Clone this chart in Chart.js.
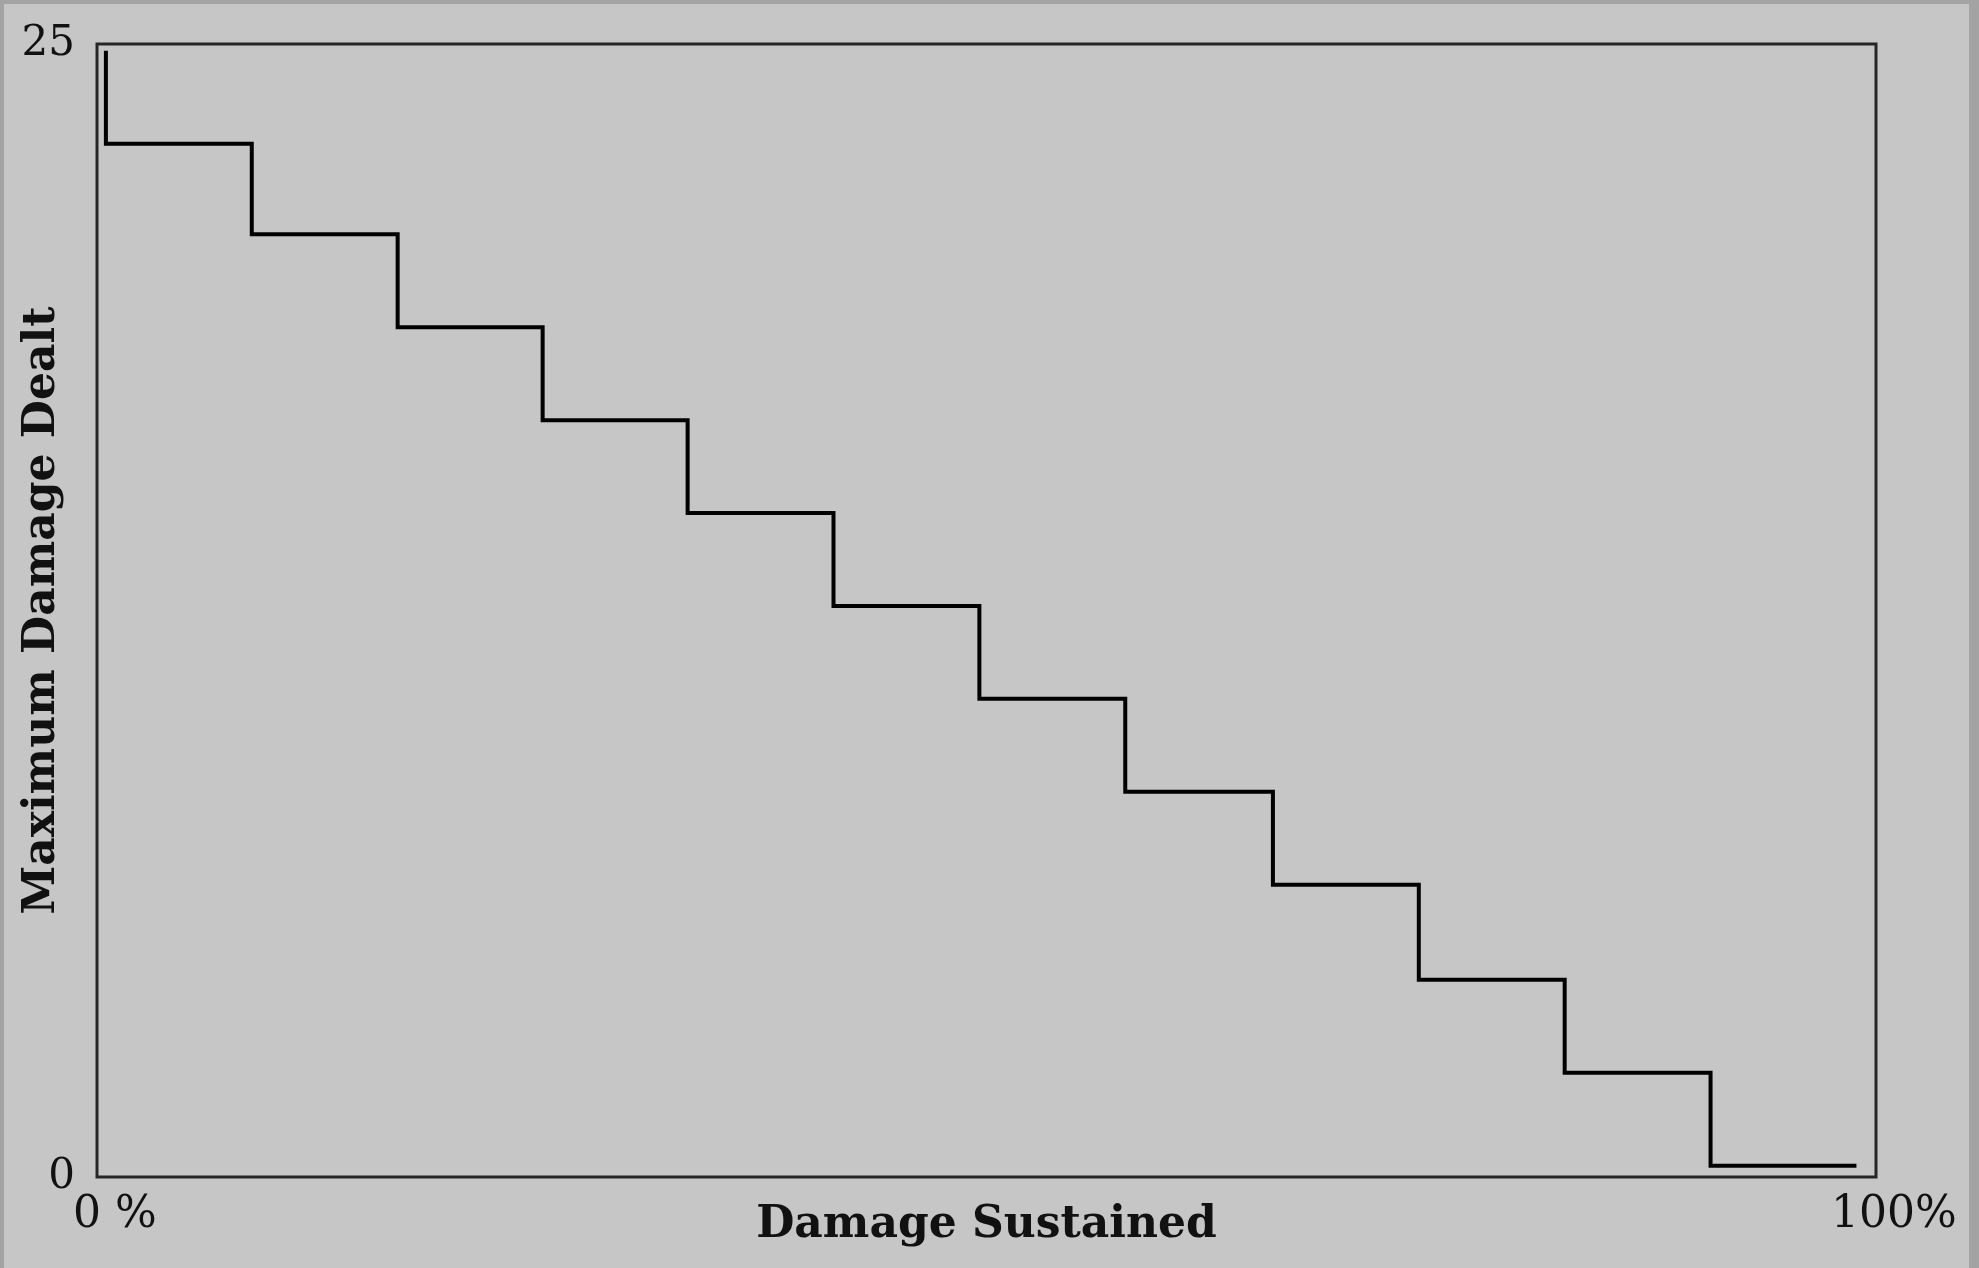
<!DOCTYPE html>
<html>
<head>
<meta charset="utf-8">
<script src="https://cdn.jsdelivr.net/npm/chart.js@4.4.1/dist/chart.umd.min.js"></script>
<style>
  html, body { margin: 0; padding: 0; background: #a3a3a3; }
  #wrap {
    width: 1965px; height: 1264px;
    border-top: 4px solid #a3a3a3; border-left: 4px solid #a3a3a3; border-right: 10px solid #a3a3a3;
    background: #c6c6c6;
  }
  canvas { display: block; }
</style>
</head>
<body>
<div id="wrap"><canvas id="damageChart" width="1965" height="1264"></canvas></div>
<script>
// step curve: damage sustained (%) where each level starts, and the max damage dealt
const stepX = [0.5, 0.5, 8.7, 16.9, 25.05, 33.2, 41.4, 49.6, 57.8, 66.1, 74.3, 82.5, 90.7, 98.9];
const stepY = [24.85, 22.8, 20.8, 18.75, 16.7, 14.65, 12.6, 10.55, 8.5, 6.45, 4.35, 2.3, 0.25, 0.25];

const xTickValues = [0, 100];
const xTickLabels = ['0 %', '100%'];
const yTickValues = [0, 25];
const yTickLabels = ['0', '25'];

const xTitle = 'Damage Sustained';
const yTitle = 'Maximum Damage Dealt';

const fontFamily = "'DejaVu Serif', serif";

document.addEventListener('DOMContentLoaded', function () {
    const ctx = document.getElementById('damageChart');

    // box around the plot area
    const framePlugin = {
        id: 'frame',
        afterDraw(chart) {
            const a = chart.chartArea;
            const c = chart.ctx;
            c.save();
            c.strokeStyle = '#262626';
            c.lineWidth = 3;
            c.strokeRect(a.left, a.top, a.right - a.left, a.bottom - a.top);
            c.restore();
        }
    };

    new Chart(ctx, {
        type: 'line',
        data: {
            datasets: [{
                data: stepX.map((x, i) => ({ x: x, y: stepY[i] })),
                borderColor: '#000000',
                borderWidth: 4,
                pointRadius: 0,
                stepped: 'before', // horizontal first, then drop
                fill: false
            }]
        },
        options: {
            responsive: false,
            animation: false,
            devicePixelRatio: 1,
            layout: { padding: { top: 40, right: 93, left: 0, bottom: 0 } },
            plugins: {
                legend: { display: false },
                tooltip: { enabled: false }
            },
            scales: {
                x: {
                    type: 'linear',
                    min: 0,
                    max: 100,
                    grid: { display: false, drawTicks: false },
                    border: { display: false },
                    afterBuildTicks: axis => { axis.ticks = xTickValues.map(v => ({ value: v })); },
                    afterFit: axis => { axis.height = 91; },
                    ticks: {
                        color: '#111',
                        padding: 12,
                        labelOffset: 18,
                        maxRotation: 0,
                        font: { family: fontFamily, size: 44 },
                        callback: v => xTickLabels[xTickValues.indexOf(v)]
                    },
                    title: {
                        display: true,
                        text: xTitle,
                        color: '#111',
                        padding: { top: 0, bottom: 16 },
                        font: { family: fontFamily, size: 44, weight: 'bold' }
                    }
                },
                y: {
                    type: 'linear',
                    min: 0,
                    max: 25,
                    grid: { display: false, drawTicks: false },
                    border: { display: false },
                    afterBuildTicks: axis => { axis.ticks = yTickValues.map(v => ({ value: v })); },
                    afterFit: axis => { axis.width = 93; },
                    ticks: {
                        color: '#111',
                        padding: 22,
                        font: { family: fontFamily, size: 42, lineHeight: 0.8 },
                        callback: v => yTickLabels[yTickValues.indexOf(v)]
                    },
                    title: {
                        display: true,
                        text: yTitle,
                        color: '#111',
                        padding: { top: 12, bottom: 0 },
                        font: { family: fontFamily, size: 44, weight: 'bold' }
                    }
                }
            }
        },
        plugins: [framePlugin]
    });
});
</script>
</body>
</html>
